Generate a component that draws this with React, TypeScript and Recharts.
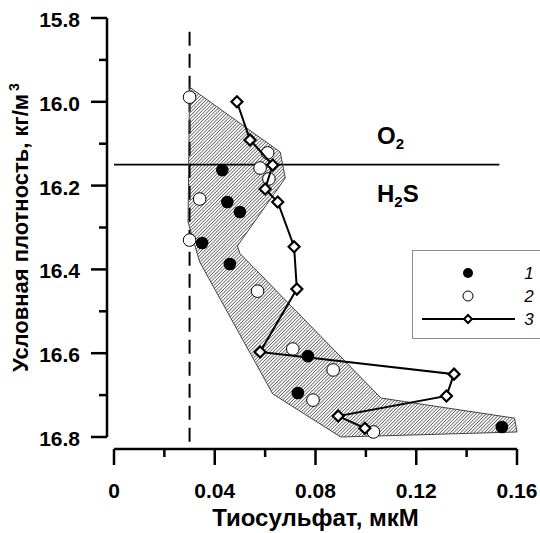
import { ComposedChart, Scatter, XAxis, YAxis, ReferenceLine, Legend, Label } from "recharts";

// axis ticks
const xTicks = [0, 0.02, 0.04, 0.06, 0.08, 0.1, 0.12, 0.14, 0.16];
const yTicks = [15.8, 15.9, 16.0, 16.1, 16.2, 16.3, 16.4, 16.5, 16.6, 16.7, 16.8];

// 1 - filled circles
const filledX = [0.043, 0.045, 0.050, 0.035, 0.046, 0.077, 0.073, 0.154];
const filledY = [16.163, 16.239, 16.263, 16.337, 16.387, 16.607, 16.695, 16.776];

// 2 - open circles
const openX = [0.030, 0.061, 0.058, 0.0615, 0.034, 0.030, 0.057, 0.071, 0.087, 0.079, 0.103];
const openY = [15.989, 16.122, 16.158, 16.184, 16.232, 16.330, 16.452, 16.590, 16.640, 16.712, 16.788];

// 3 - profile line
const lineX = [0.0488, 0.054, 0.063, 0.060, 0.065, 0.0715, 0.0726, 0.058, 0.135, 0.132, 0.089, 0.0996];
const lineY = [16.0, 16.091, 16.151, 16.208, 16.239, 16.346, 16.447, 16.597, 16.650, 16.702, 16.750, 16.779];

// hatched envelope (closed polygon)
const envX = [0.030, 0.066, 0.068, 0.049, 0.050, 0.106, 0.159, 0.160, 0.090, 0.063, 0.034, 0.0294];
const envY = [15.965, 16.120, 16.182, 16.344, 16.362, 16.707, 16.755, 16.788, 16.800, 16.697, 16.382, 16.287];

// O2 / H2S boundary and detection limit
const boundaryY = 16.15;
const boundaryXEnd = 0.153;
const limitX = 0.03;
const limitYFrom = 15.833;
const limitYTo = 16.819;

const toPoints = (xs: number[], ys: number[]) => xs.map((x, i) => ({ x, y: ys[i] }));

const filled = toPoints(filledX, filledY);
const open = toPoints(openX, openY);
const profile = toPoints(lineX, lineY);
const envelope = toPoints(envX, envY);

const FONT = "'Liberation Sans', Arial, sans-serif";
// axes are drawn detached from the plot area
const Y_GAP = 7;
const X_GAP = 12;
const AXIS_W = 2.5;

const YTick = (props: any) => {
    const { x, y, payload } = props;
    const major = Math.round(payload.value * 10) % 2 === 0;
    const ax = x - Y_GAP;
    return (
        <g>
            <line x1={ax} x2={ax - (major ? 16 : 8)} y1={y} y2={y} stroke="#000" strokeWidth={AXIS_W} />
            {major && (
                <text x={ax - 27} y={y + 9} textAnchor="end" fontFamily={FONT} fontWeight="bold" fontSize={21} fill="#000">
                    {payload.value.toFixed(1)}
                </text>
            )}
        </g>
    );
};

const XTick = (props: any) => {
    const { x, y, payload } = props;
    const major = Math.round(payload.value * 100) % 4 === 0;
    const ay = y + X_GAP;
    return (
        <g>
            <line x1={x} x2={x} y1={ay} y2={ay + (major ? 16 : 8)} stroke="#000" strokeWidth={AXIS_W} />
            {major && (
                <text x={x} y={ay + 49} textAnchor="middle" fontFamily={FONT} fontWeight="bold" fontSize={21} fill="#000">
                    {payload.value === 0 ? "0" : payload.value.toFixed(2)}
                </text>
            )}
        </g>
    );
};

const FilledDot = ({ cx, cy }: any) => <circle cx={cx} cy={cy} r={6.3} fill="#000" />;
const OpenDot = ({ cx, cy }: any) => <circle cx={cx} cy={cy} r={6.3} fill="#fff" stroke="#000" strokeWidth={1} />;
const Diamond = ({ cx, cy }: any) => (
    <path d={`M${cx},${cy - 5.5}L${cx + 5.5},${cy}L${cx},${cy + 5.5}L${cx - 5.5},${cy}Z`} fill="#fff" stroke="#000" strokeWidth={2.2} />
);

const EnvelopeShape = ({ points }: any) => {
    const d = points.map((p: any, i: number) => `${i ? "L" : "M"}${p.x},${p.y}`).join("") + "Z";
    return (
        <g>
            <defs>
                <pattern id="hatch" patternUnits="userSpaceOnUse" width="2.4" height="2.4" patternTransform="rotate(45)">
                    <line x1="0" y1="0" x2="0" y2="2.4" stroke="#000" strokeWidth="1" />
                </pattern>
            </defs>
            <path d={d} fill="url(#hatch)" stroke="#444" strokeWidth={1} />
        </g>
    );
};

const YTitle = ({ viewBox }: any) => {
    const cx = viewBox.x + viewBox.width - 93;
    const cy = viewBox.y + viewBox.height / 2;
    return (
        <text x={cx} y={cy} transform={`rotate(-90 ${cx} ${cy})`} textAnchor="middle" dy={7} fontFamily={FONT} fontWeight="bold" fontSize={22} fill="#000">
            Условная плотность, кг/м
            <tspan dx={3} dy={-9} fontSize={14}>3</tspan>
        </text>
    );
};

const XTitle = ({ viewBox }: any) => (
    <text x={viewBox.x + viewBox.width / 2} y={viewBox.y + 89} textAnchor="middle" fontFamily={FONT} fontWeight="bold" fontSize={24} fill="#000">
        Тиосульфат, мкМ
    </text>
);

const ZoneLabels = ({ viewBox }: any) => {
    const x = viewBox.x + 263;
    const y = viewBox.y;
    return (
        <g fontFamily={FONT} fontWeight="bold" fill="#000">
            <text x={x} y={y - 21} fontSize={24}>
                O<tspan dy={5} fontSize={15}>2</tspan>
            </text>
            <text x={x} y={y + 37} fontSize={24}>
                H<tspan dy={5} fontSize={15}>2</tspan>
                <tspan dy={-5}>S</tspan>
            </text>
        </g>
    );
};

const LegendBox = ({ payload }: any) => {
    const items = [...(payload || [])].sort((a: any, b: any) => String(a.value).localeCompare(String(b.value)));
    return (
        <div style={{ width: 128, height: 89, border: "1px solid #8c8c8c", borderRight: "none", boxSizing: "border-box", background: "#fff" }}>
            <svg width={127} height={87}>
                {items.map((item: any, i: number) => {
                    const cy = 22 + i * 23;
                    let icon = null;
                    if (item.value === "1") icon = <circle cx={55} cy={cy} r={5} fill="#000" />;
                    if (item.value === "2") icon = <circle cx={55} cy={cy} r={5} fill="#fff" stroke="#000" strokeWidth={1} />;
                    if (item.value === "3")
                        icon = (
                            <g>
                                <line x1={9} x2={102} y1={cy} y2={cy} stroke="#000" strokeWidth={2} />
                                <path d={`M55,${cy - 4}L59,${cy}L55,${cy + 4}L51,${cy}Z`} fill="#fff" stroke="#000" strokeWidth={2} />
                            </g>
                        );
                    return (
                        <g key={item.value}>
                            {icon}
                            <text x={116} y={cy + 6} textAnchor="middle" fontFamily={FONT} fontStyle="italic" fontSize={17} fill="#000">
                                {item.value}
                            </text>
                        </g>
                    );
                })}
            </svg>
        </div>
    );
};

export default function App() {
    return (
        <div style={{ position: "absolute", left: 0, top: 0, background: "#fff" }}>
            <ComposedChart width={540} height={533} margin={{ top: 18, right: 23, left: 54, bottom: 66 }}>
                <XAxis
                    type="number"
                    dataKey="x"
                    domain={[0, 0.16]}
                    ticks={xTicks}
                    interval={0}
                    height={30}
                    tickSize={0}
                    tickMargin={0}
                    tickLine={false}
                    axisLine={false}
                    tick={<XTick />}
                >
                    <Label content={<XTitle />} />
                </XAxis>
                <YAxis
                    type="number"
                    dataKey="y"
                    domain={[15.8, 16.8]}
                    reversed
                    ticks={yTicks}
                    interval={0}
                    width={60}
                    tickSize={0}
                    tickMargin={0}
                    tickLine={false}
                    axisLine={false}
                    tick={<YTick />}
                >
                    <Label content={<YTitle />} />
                </YAxis>
                {/* detached axis lines */}
                <ReferenceLine
                    segment={[{ x: 0, y: 15.8 }, { x: 0, y: 16.8 }]}
                    ifOverflow="visible"
                    shape={(p: any) => <line x1={p.x1 - Y_GAP} x2={p.x2 - Y_GAP} y1={p.y1} y2={p.y2} stroke="#000" strokeWidth={AXIS_W} />}
                />
                <ReferenceLine
                    segment={[{ x: 0, y: 16.8 }, { x: 0.16, y: 16.8 }]}
                    ifOverflow="visible"
                    shape={(p: any) => <line x1={p.x1} x2={p.x2} y1={p.y1 + X_GAP} y2={p.y2 + X_GAP} stroke="#000" strokeWidth={AXIS_W} />}
                />
                <Scatter
                    data={envelope}
                    legendType="none"
                    isAnimationActive={false}
                    shape={() => <g />}
                    line={(p: any) => <EnvelopeShape points={p.points} />}
                />
                <ReferenceLine
                    segment={[{ x: limitX, y: limitYFrom }, { x: limitX, y: limitYTo }]}
                    stroke="#000"
                    strokeWidth={2}
                    strokeDasharray="14 8"
                    ifOverflow="visible"
                />
                <ReferenceLine
                    segment={[{ x: 0, y: boundaryY }, { x: boundaryXEnd, y: boundaryY }]}
                    stroke="#000"
                    strokeWidth={1.8}
                    ifOverflow="visible"
                    label={<ZoneLabels />}
                />
                <Scatter name="2" data={open} isAnimationActive={false} shape={<OpenDot />} />
                <Scatter name="1" data={filled} isAnimationActive={false} shape={<FilledDot />} />
                <Scatter
                    name="3"
                    data={profile}
                    isAnimationActive={false}
                    fill="#000"
                    line={{ stroke: "#000", strokeWidth: 2 }}
                    shape={<Diamond />}
                />
                <Legend
                    layout="horizontal"
                    verticalAlign="middle"
                    align="center"
                    content={<LegendBox />}
                    wrapperStyle={{ left: 412, top: 250, width: 128, height: 89 }}
                />
            </ComposedChart>
        </div>
    );
}
